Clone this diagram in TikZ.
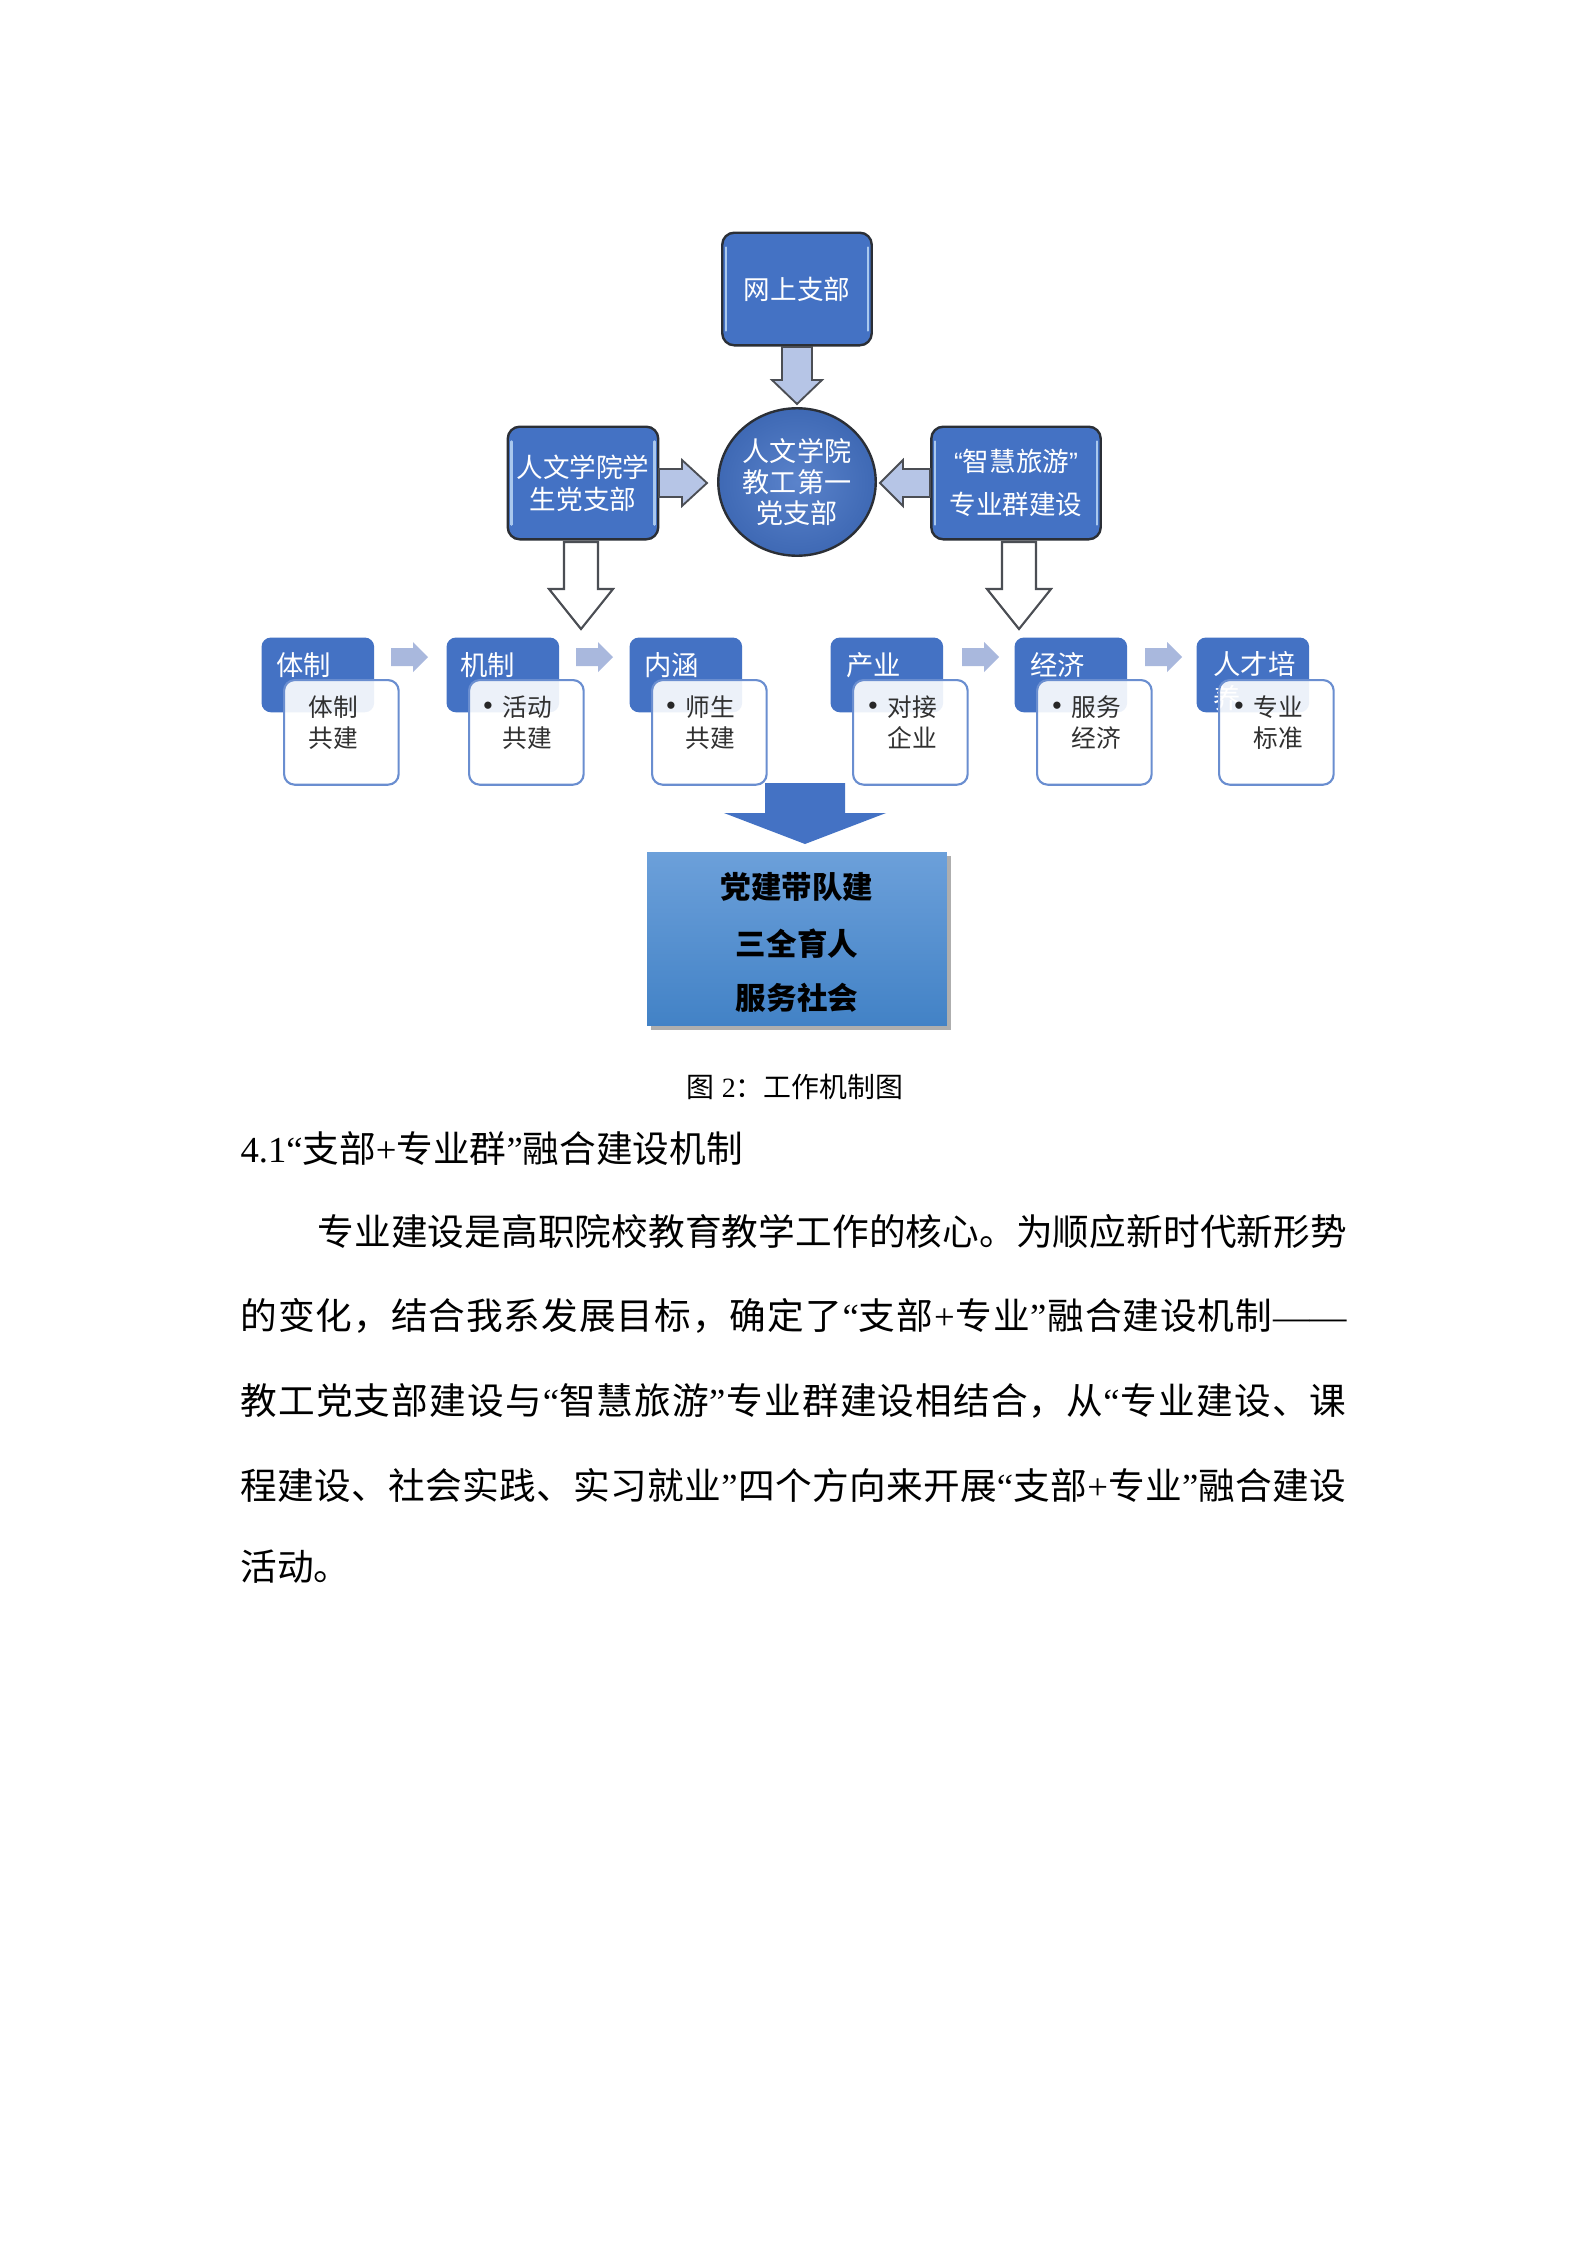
\documentclass[tikz,border=0pt]{standalone}
\usepackage{fontspec}
\setmainfont{Noto Sans CJK SC}
\newfontfamily\lat{Liberation Serif}
\newfontfamily\latsans{Liberation Sans}
\usetikzlibrary{shadows,shapes.geometric,calc}
\def\pxu{0.37509pt}
\definecolor{boxblue}{HTML}{4472C4}
\definecolor{edgedark}{HTML}{2B2F36}
\definecolor{arrfill}{HTML}{B6C5E6}
\definecolor{smallarr}{HTML}{A9B8DD}
\definecolor{wbord}{HTML}{6A8ED0}
\definecolor{txtgray}{HTML}{303030}
\definecolor{glosslt}{HTML}{A9C8EE}
\definecolor{bottop}{HTML}{6CA0DA}
\definecolor{botbot}{HTML}{4282C6}
\newcommand\myq{{\lat “}}
\newcommand\myQ{{\lat ”}}
\newcommand\myplus{{\lat +}}
\makeatletter
\def\spr#1{#1\futurelet\spr@next\spr@b}
\def\spr@b{\ifx\spr@next\relax\expandafter\@gobble\else\hfil\expandafter\spr\fi}
\makeatother
% vertical block arrow: style, cx, top, head start, tip, shaft half, head half
\newcommand\myDArr[7]{\path[#1] (#2-#6,#3) -- (#2+#6,#3) -- (#2+#6,#4) -- (#2+#7,#4) -- (#2,#5) -- (#2-#7,#4) -- (#2-#6,#4) -- cycle;}
% horizontal block arrow: style, start x, head start x, tip x, cy, shaft half, head half
\newcommand\myHArr[7]{\path[#1] (#2,#5-#6) -- (#3,#5-#6) -- (#3,#5-#7) -- (#4,#5) -- (#3,#5+#7) -- (#3,#5+#6) -- (#2,#5+#6) -- cycle;}
\tikzset{
  topbox/.style={draw=edgedark, line width=0.9pt, fill=boxblue, rounded corners=4.5pt, text=white,
    inner sep=0pt, align=center, font=\fontsize{10}{12}\selectfont},
  circ/.style={ellipse, draw=edgedark, line width=0.9pt, inner sep=0pt, text=white, align=center,
    inner color=boxblue!88!white, outer color=boxblue!92!black, font=\fontsize{10.2}{11.6}\selectfont},
  gloss/.style={draw=glosslt, line width=0.9pt, line cap=round},
  blockarr/.style={draw=edgedark!85, line width=0.7pt, fill=arrfill},
  hollowarr/.style={draw=edgedark!85, line width=0.8pt, fill=white},
  smallarrow/.style={fill=smallarr},
  bigarr/.style={fill=boxblue},
  hdr/.style={fill=boxblue, rounded corners=3.5pt, inner sep=0pt, minimum width=113*\pxu, minimum height=75*\pxu, anchor=north west},
  hdrtext/.style={text=white, inner sep=0pt, font=\fontsize{10.3}{12.8}\selectfont, align=left},
  wbox/.style={draw=wbord, line width=0.8pt, fill=white, fill opacity=0.9, rounded corners=4pt, inner sep=0pt,
    minimum width=115*\pxu, minimum height=105*\pxu, anchor=north west},
  wtext/.style={text=txtgray, inner sep=0pt, anchor=west, font=\fontsize{9.3}{11}\selectfont},
  wdot/.style={text=txtgray!80!black, inner sep=0pt, anchor=center, font=\latsans\fontsize{10}{11}\selectfont},
  botbox/.style={top color=bottop, bottom color=botbot, draw=none, inner sep=0pt,
    drop shadow={shadow xshift=1.5pt, shadow yshift=-1.5pt, opacity=0.45, fill=black!70}},
  bottext/.style={text=black, inner sep=0pt, font=\fontsize{11.5}{13}\selectfont\bfseries},
  para/.style={anchor=west, inner sep=0pt, text=black, font=\fontsize{13.8}{16}\selectfont},
}
\begin{document}
\begin{tikzpicture}[x=0.0132325cm, y=-0.0132325cm]
\path[use as bounding box, fill=white] (0,0) rectangle (1587,2245);

% ---------- top part ----------
\node[topbox, minimum width=150*\pxu, minimum height=113*\pxu] (wang) at (797,289) {网上支部};
\node[topbox, minimum width=151*\pxu, minimum height=113*\pxu] (stu) at (583,483) {人文学院学\\生党支部};
\node[topbox, minimum width=170*\pxu, minimum height=113*\pxu, font=\fontsize{10}{16}\selectfont] (zhlv) at (1016,483) {{\latsans “}智慧旅游{\latsans ”}\\专业群建设};
\node[circ, minimum width=158*\pxu, minimum height=148*\pxu] (core) at (797,482) {人文学院\\教工第一\\党支部};

% glossy edge lines
\foreach \b in {wang,stu,zhlv}{
  \draw[gloss] ([xshift=5*\pxu,yshift=-16*\pxu]\b.north west) -- ([xshift=5*\pxu,yshift=16*\pxu]\b.south west);
  \draw[gloss] ([xshift=-5*\pxu,yshift=-16*\pxu]\b.north east) -- ([xshift=-5*\pxu,yshift=16*\pxu]\b.south east);
}

% block arrows into the circle
\myDArr{blockarr}{797}{347}{380}{404}{15}{25}
\myHArr{blockarr}{659}{682}{707}{483}{14}{23}
\myHArr{blockarr}{930}{903}{880}{483}{14}{23}

% hollow arrows downwards
\myDArr{hollowarr}{581}{542}{589}{629}{17}{32}
\myDArr{hollowarr}{1019}{542}{589}{629}{17}{32}

% ---------- row of six items ----------
\node[hdr] (h1) at (261,637) {};
\node[hdr] (h2) at (446,637) {};
\node[hdr] (h3) at (629,637) {};
\node[hdr] (h4) at (830,637) {};
\node[hdr] (h5) at (1014,637) {};
\node[hdr] (h6) at (1196,637) {};

\node[hdrtext, anchor=west] (h1t) at (276,665) {体制};
\node[hdrtext, anchor=west] (h2t) at (460,665) {机制};
\node[hdrtext, anchor=west] (h3t) at (644,665) {内涵};
\node[hdrtext, anchor=west] (h4t) at (846,665) {产业};
\node[hdrtext, anchor=west] (h5t) at (1030,665) {经济};
\node[hdrtext, anchor=north west] (h6t) at (1213,651) {人才培\\养};

\myHArr{smallarrow}{391}{413}{428}{657}{9}{15}
\myHArr{smallarrow}{576}{598}{613}{657}{9}{15}
\myHArr{smallarrow}{962}{984}{999}{657}{9}{15}
\myHArr{smallarrow}{1145}{1167}{1182}{657}{9}{15}

\node[wbox] (w1) at (283,679) {};
\node[wbox] (w2) at (468,679) {};
\node[wbox] (w3) at (651,679) {};
\node[wbox] (w4) at (852,679) {};
\node[wbox] (w5) at (1036,679) {};
\node[wbox] (w6) at (1218,679) {};

\node[wtext] (w1a) at (308,707) {体制};
\node[wtext] (w1b) at (308,738) {共建};
\node[wdot] (w2d) at (488,708) {•};
\node[wtext] (w2a) at (502,707) {活动};
\node[wtext] (w2b) at (502,738) {共建};
\node[wdot] (w3d) at (671,708) {•};
\node[wtext] (w3a) at (685,707) {师生};
\node[wtext] (w3b) at (685,738) {共建};
\node[wdot] (w4d) at (873,708) {•};
\node[wtext] (w4a) at (887,707) {对接};
\node[wtext] (w4b) at (887,738) {企业};
\node[wdot] (w5d) at (1057,708) {•};
\node[wtext] (w5a) at (1071,707) {服务};
\node[wtext] (w5b) at (1071,738) {经济};
\node[wdot] (w6d) at (1239,708) {•};
\node[wtext] (w6a) at (1253,707) {专业};
\node[wtext] (w6b) at (1253,738) {标准};

% ---------- result ----------
\myDArr{bigarr}{805}{783}{813}{844}{40}{81}
\node[botbox, minimum width=301*\pxu, minimum height=174*\pxu] (res) at (797,939) {};
\node[bottext] (r1) at (797,887) {党建带队建};
\node[bottext] (r2) at (797,944) {三全育人};
\node[bottext] (r3) at (797,998) {服务社会};

% ---------- caption and text ----------
\node[inner sep=0pt, font=\fontsize{10.5}{12}\selectfont] (cap) at (795,1087) {图{\lat\ 2}：工作机制图};
\node[para] (head) at (240,1149) {{\lat 4.1“}支部{\lat +}专业群{\lat ”}融合建设机制};
\node[para] (l1) at (317,1232) {\hbox to 387.5pt{\spr 专业建设是高职院校教育教学工作的核心。为顺应新时代新形势\relax}};
\node[para] (l2) at (240,1316) {\hbox to 416.3pt{\spr 的变化，结合我系发展目标，确定了{\myq 支}部\myplus 专{业\myQ}融合建设机制{{\lat ——}}\relax}};
\node[para] (l3) at (240,1401) {\hbox to 416.3pt{\spr 教工党支部建设与{\myq 智}慧旅{游\myQ}专业群建设相结合，{从\myq}专业建设、课\relax}};
\node[para] (l4) at (240,1485) {\hbox to 416.3pt{\spr 程建设、社会实践、实习就{业\myQ}四个方向来开{展\myq}支部\myplus 专{业\myQ}融合建设\relax}};
\node[para] (l5) at (240,1567) {活动。};
\end{tikzpicture}
\end{document}
